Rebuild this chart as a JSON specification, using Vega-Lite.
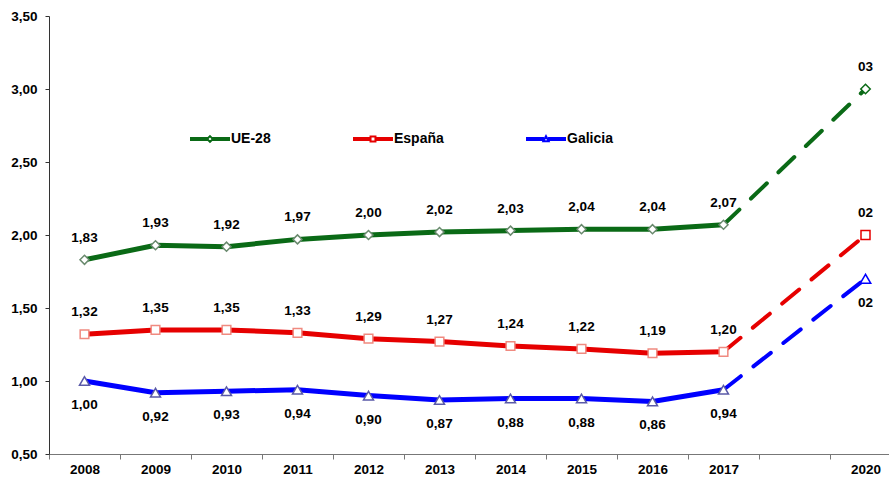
{
  "$schema": "https://vega.github.io/schema/vega-lite/v6.json",
  "width": 840,
  "height": 438,
  "autosize": {"type": "none"},
  "padding": {"left": 49, "top": 16, "right": 0, "bottom": 26},
  "config": {
    "view": {"stroke": null},
    "font": "Liberation Sans",
    "text": {"font": "Liberation Sans"}
  },
  "data": {
    "values": [
      {"series": "UE-28", "year": "2008", "value": 1.83, "label": "1,83"},
      {"series": "UE-28", "year": "2009", "value": 1.93, "label": "1,93"},
      {"series": "UE-28", "year": "2010", "value": 1.92, "label": "1,92"},
      {"series": "UE-28", "year": "2011", "value": 1.97, "label": "1,97"},
      {"series": "UE-28", "year": "2012", "value": 2.00, "label": "2,00"},
      {"series": "UE-28", "year": "2013", "value": 2.02, "label": "2,02"},
      {"series": "UE-28", "year": "2014", "value": 2.03, "label": "2,03"},
      {"series": "UE-28", "year": "2015", "value": 2.04, "label": "2,04"},
      {"series": "UE-28", "year": "2016", "value": 2.04, "label": "2,04"},
      {"series": "UE-28", "year": "2017", "value": 2.07, "label": "2,07"},
      {"series": "UE-28", "year": "2020", "value": 3.00, "label": "03"},
      {"series": "España", "year": "2008", "value": 1.32, "label": "1,32"},
      {"series": "España", "year": "2009", "value": 1.35, "label": "1,35"},
      {"series": "España", "year": "2010", "value": 1.35, "label": "1,35"},
      {"series": "España", "year": "2011", "value": 1.33, "label": "1,33"},
      {"series": "España", "year": "2012", "value": 1.29, "label": "1,29"},
      {"series": "España", "year": "2013", "value": 1.27, "label": "1,27"},
      {"series": "España", "year": "2014", "value": 1.24, "label": "1,24"},
      {"series": "España", "year": "2015", "value": 1.22, "label": "1,22"},
      {"series": "España", "year": "2016", "value": 1.19, "label": "1,19"},
      {"series": "España", "year": "2017", "value": 1.20, "label": "1,20"},
      {"series": "España", "year": "2020", "value": 2.00, "label": "02"},
      {"series": "Galicia", "year": "2008", "value": 1.00, "label": "1,00"},
      {"series": "Galicia", "year": "2009", "value": 0.92, "label": "0,92"},
      {"series": "Galicia", "year": "2010", "value": 0.93, "label": "0,93"},
      {"series": "Galicia", "year": "2011", "value": 0.94, "label": "0,94"},
      {"series": "Galicia", "year": "2012", "value": 0.90, "label": "0,90"},
      {"series": "Galicia", "year": "2013", "value": 0.87, "label": "0,87"},
      {"series": "Galicia", "year": "2014", "value": 0.88, "label": "0,88"},
      {"series": "Galicia", "year": "2015", "value": 0.88, "label": "0,88"},
      {"series": "Galicia", "year": "2016", "value": 0.86, "label": "0,86"},
      {"series": "Galicia", "year": "2017", "value": 0.94, "label": "0,94"},
      {"series": "Galicia", "year": "2020", "value": 1.70, "label": "02"}
    ]
  },
  "encoding": {
    "x": {
      "field": "year",
      "type": "ordinal",
      "scale": {
        "type": "band",
        "domain": ["2008", "2009", "2010", "2011", "2012", "2013", "2014", "2015", "2016", "2017", "gap", "2020"],
        "range": [0, 852],
        "paddingInner": 0,
        "paddingOuter": 0
      },
      "axis": {
        "title": null,
        "tickBand": "extent",
        "labelAngle": 0,
        "labelExpr": "datum.value == 'gap' ? '' : datum.label",
        "labelFontSize": 13.5,
        "labelFontWeight": "bold",
        "labelColor": "#000000",
        "labelPadding": 3,
        "tickSize": 5,
        "tickColor": "#777777",
        "domainColor": "#777777",
        "grid": false
      }
    },
    "y": {
      "field": "value",
      "type": "quantitative",
      "scale": {"domain": [0.5, 3.5], "nice": false, "zero": false},
      "axis": {
        "title": null,
        "values": [0.5, 1, 1.5, 2, 2.5, 3, 3.5],
        "labelExpr": "replace(format(datum.value, '.2f'), '.', ',')",
        "labelFontSize": 13.5,
        "labelFontWeight": "bold",
        "labelColor": "#000000",
        "labelPadding": 8,
        "tickSize": 4,
        "tickColor": "#333333",
        "domainColor": "#333333",
        "grid": false
      }
    }
  },
  "layer": [
    {
      "transform": [{"filter": "datum.year != '2020'"}],
      "mark": {"type": "line", "strokeWidth": 5, "strokeCap": "round", "strokeJoin": "round"},
      "encoding": {
        "color": {
          "field": "series",
          "type": "nominal",
          "sort": ["UE-28", "España", "Galicia"],
          "scale": {"domain": ["UE-28", "España", "Galicia"], "range": ["#0a6a16", "#e60000", "#0000ff"]},
          "legend": {
            "orient": "none",
            "legendX": 141,
            "legendY": 103,
            "direction": "horizontal",
            "title": null,
            "padding": 0,
            "symbolSize": 1444,
            "symbolStrokeWidth": 2,
            "labelFontSize": 14,
            "labelFontWeight": "bold",
            "labelColor": "#000000",
            "labelOffset": 1,
            "columnPadding": 79,
            "encode": {
              "symbols": {
                "update": {
                  "shape": {"signal": "datum.value == 'UE-28' ? 'M-1,-0.05H-0.16V0.05H-1Z M0.16,-0.05H1V0.05H0.16Z M0,-0.15L0.15,0L0,0.15L-0.15,0Z' : datum.value == 'España' ? 'M-1,-0.05H-0.14V0.05H-1Z M0.14,-0.05H1V0.05H0.14Z M-0.13,-0.13H0.13V0.13H-0.13Z' : 'M-1,-0.05H-0.16V0.05H-1Z M0.16,-0.05H1V0.05H0.16Z M0,-0.15L0.14,0.12H-0.14Z'"},
                  "fill": {"value": "#ffffff"},
                  "strokeDash": {"value": []}
                }
              }
            }
          }
        }
      }
    },
    {
      "transform": [{"filter": "datum.year == '2017' || datum.year == '2020'"}],
      "mark": {"type": "line", "strokeWidth": 4, "strokeCap": "round", "strokeDash": [22, 16]},
      "encoding": {
        "color": {"field": "series", "type": "nominal", "legend": null}
      }
    },
    {
      "transform": [{"filter": "datum.series == 'UE-28' && datum.year != '2020'"}],
      "mark": {"type": "point", "shape": "diamond", "size": 81, "filled": false, "fill": "#ffffff", "fillOpacity": 1, "stroke": "#6a8a6e", "strokeWidth": 1.5, "opacity": 1}
    },
    {
      "transform": [{"filter": "datum.series == 'España' && datum.year != '2020'"}],
      "mark": {"type": "point", "shape": "square", "size": 75, "filled": false, "fill": "#ffffff", "fillOpacity": 1, "stroke": "#f08a80", "strokeWidth": 1.5, "opacity": 1}
    },
    {
      "transform": [{"filter": "datum.series == 'Galicia' && datum.year != '2020'"}],
      "mark": {"type": "point", "shape": "triangle-up", "size": 100, "filled": false, "fill": "#ffffff", "fillOpacity": 1, "stroke": "#5a5aa8", "strokeWidth": 1.5, "opacity": 1}
    },
    {
      "transform": [{"filter": "datum.series == 'UE-28' && datum.year == '2020'"}],
      "mark": {"type": "point", "shape": "diamond", "size": 90, "filled": false, "fill": "#ffffff", "fillOpacity": 1, "stroke": "#0a6a16", "strokeWidth": 1.5, "opacity": 1}
    },
    {
      "transform": [{"filter": "datum.series == 'España' && datum.year == '2020'"}],
      "mark": {"type": "point", "shape": "square", "size": 81, "filled": false, "fill": "#ffffff", "fillOpacity": 1, "stroke": "#e60000", "strokeWidth": 1.5, "opacity": 1}
    },
    {
      "transform": [{"filter": "datum.series == 'Galicia' && datum.year == '2020'"}],
      "mark": {"type": "point", "shape": "triangle-up", "size": 110, "filled": false, "fill": "#ffffff", "fillOpacity": 1, "stroke": "#0000ff", "strokeWidth": 1.5, "opacity": 1}
    },
    {
      "transform": [{"filter": "datum.series != 'Galicia'"}],
      "mark": {"type": "text", "dy": -22, "fontSize": 13.5, "fontWeight": "bold", "color": "#000000", "baseline": "middle"},
      "encoding": {"text": {"field": "label"}}
    },
    {
      "transform": [{"filter": "datum.series == 'Galicia'"}],
      "mark": {"type": "text", "dy": 24, "fontSize": 13.5, "fontWeight": "bold", "color": "#000000", "baseline": "middle"},
      "encoding": {"text": {"field": "label"}}
    }
  ]
}
